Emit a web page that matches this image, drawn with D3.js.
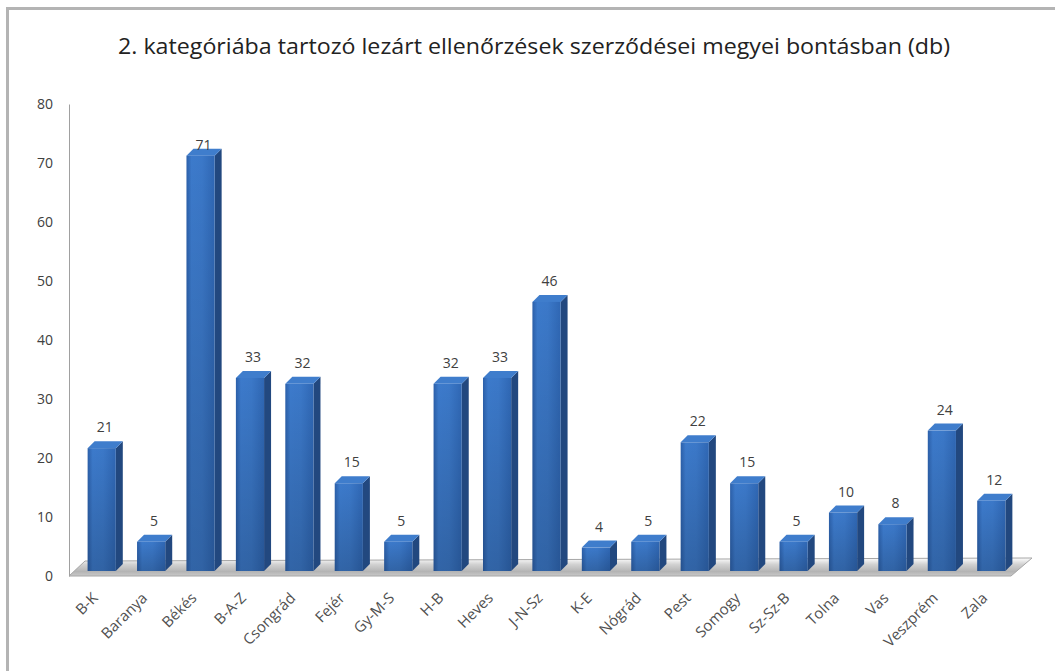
<!DOCTYPE html>
<html>
<head>
<meta charset="utf-8">
<script src="https://cdn.jsdelivr.net/npm/d3@7"></script>
<style>
  body { margin: 0; background: #fff; }
  text { font-family: "Open Sans", "Noto Sans", sans-serif; }
</style>
</head>
<body>
<script>
// chart data
var title = "2. kategóriába tartozó lezárt ellenőrzések szerződései megyei bontásban (db)";
var counties = ["B-K", "Baranya", "Békés", "B-A-Z", "Csongrád", "Fejér", "Gy-M-S", "H-B", "Heves",
    "J-N-Sz", "K-E", "Nógrád", "Pest", "Somogy", "Sz-Sz-B", "Tolna", "Vas", "Veszprém", "Zala"];
var counts = [21, 5, 71, 33, 32, 15, 5, 32, 33, 46, 4, 5, 22, 15, 5, 10, 8, 24, 12];
var yTicks = [0, 10, 20, 30, 40, 50, 60, 70, 80];

var width = 1055,
    height = 671;

// 3d depth of bars and floor
var barDepth = 7;
var floorDx = 16, floorDy = 15;

var svg = d3.select('body')
    .append('svg')
    .attr('width', width)
    .attr('height', height);

var defs = svg.append('defs');

// front face gradient, left to right
var front = defs.append('linearGradient').attr('id', 'front')
    .attr('x1', 0).attr('x2', 1).attr('y1', 0).attr('y2', 0);
front.append('stop').attr('offset', '0%').attr('stop-color', '#2c60aa');
front.append('stop').attr('offset', '18%').attr('stop-color', '#3c7acb');
front.append('stop').attr('offset', '55%').attr('stop-color', '#3b78c8');
front.append('stop').attr('offset', '100%').attr('stop-color', '#2f67b4');

// darken towards the bottom
var shade = defs.append('linearGradient').attr('id', 'shade')
    .attr('x1', 0).attr('x2', 0).attr('y1', 0).attr('y2', 1);
shade.append('stop').attr('offset', '0%').attr('stop-color', '#000').attr('stop-opacity', 0);
shade.append('stop').attr('offset', '100%').attr('stop-color', '#000').attr('stop-opacity', 0.18);

var floorGrad = defs.append('linearGradient').attr('id', 'floor')
    .attr('x1', 0).attr('x2', 0).attr('y1', 0).attr('y2', 1);
floorGrad.append('stop').attr('offset', '0%').attr('stop-color', '#ffffff');
floorGrad.append('stop').attr('offset', '35%').attr('stop-color', '#d2d2d2');
floorGrad.append('stop').attr('offset', '75%').attr('stop-color', '#b4b4b4');
floorGrad.append('stop').attr('offset', '100%').attr('stop-color', '#c8c8c8');

// outer frame (only top and left visible in the crop)
svg.append('path')
    .attr('d', 'M7.5,' + height + 'V8.5H' + width)
    .attr('fill', 'none')
    .attr('stroke', '#b4b4b4')
    .attr('stroke-width', 3);

svg.append('text')
    .attr('x', 534)
    .attr('y', 54)
    .attr('text-anchor', 'middle')
    .attr('font-size', 21)
    .attr('fill', '#222')
    .attr('textLength', 832)
    .attr('lengthAdjust', 'spacingAndGlyphs')
    .text(title);

// scales
var x = d3.scaleBand()
    .domain(counties)
    .range([77, 1016])
    .paddingInner(0.43)
    .paddingOuter(0.215);

var yAxisScale = d3.scaleLinear().domain([0, 80]).range([576, 104]);
var y = d3.scaleLinear().domain([0, 80]).range([571, 103]);

// floor
var fx0 = 69, fx1 = 1011, fy = yAxisScale(0);
svg.append('path')
    .attr('d', 'M' + fx0 + ',' + fy +
        'L' + fx1 + ',' + fy +
        'L' + (fx1 + floorDx + 5) + ',' + (fy - floorDy - 3) +
        'L' + (fx0 + floorDx) + ',' + (fy - floorDy) + 'Z')
    .attr('fill', 'url(#floor)')
    .attr('stroke', '#a6a6a6')
    .attr('stroke-width', 1);

// y axis
var yAxis = svg.append('g')
    .attr('transform', 'translate(69,0)')
    .call(d3.axisLeft(yAxisScale).tickValues(yTicks).tickSize(0).tickPadding(16));
yAxis.select('.domain').attr('stroke', '#a0a0a0');
yAxis.selectAll('text')
    .attr('font-size', 14)
    .attr('fill', '#404040')
    .style('font-family', '"Open Sans", sans-serif');

// bars
var bw = x.bandwidth();
var bars = svg.selectAll('.bar')
    .data(counts)
    .enter().append('g')
    .attr('class', 'bar');

// side face
bars.append('path')
    .attr('d', function(d, i) {
        var x0 = x(counties[i]) + bw, top = y(d), bot = y(0);
        return 'M' + x0 + ',' + top + 'L' + (x0 + barDepth) + ',' + (top - barDepth) +
            'L' + (x0 + barDepth) + ',' + (bot - barDepth) + 'L' + x0 + ',' + bot + 'Z';
    })
    .attr('fill', '#22487f');

// top face
bars.append('path')
    .attr('d', function(d, i) {
        var x0 = x(counties[i]), top = y(d);
        return 'M' + x0 + ',' + top + 'L' + (x0 + barDepth) + ',' + (top - barDepth) +
            'L' + (x0 + bw + barDepth) + ',' + (top - barDepth) + 'L' + (x0 + bw) + ',' + top + 'Z';
    })
    .attr('fill', '#3f7dcc');

// front face
bars.append('rect')
    .attr('x', function(d, i) { return x(counties[i]); })
    .attr('y', function(d) { return y(d); })
    .attr('width', bw)
    .attr('height', function(d) { return y(0) - y(d); })
    .attr('fill', 'url(#front)');
bars.append('rect')
    .attr('x', function(d, i) { return x(counties[i]); })
    .attr('y', function(d) { return y(d); })
    .attr('width', bw)
    .attr('height', function(d) { return y(0) - y(d); })
    .attr('fill', 'url(#shade)');

// value labels, kept inside the plot area
svg.selectAll('.val')
    .data(counts)
    .enter().append('text')
    .attr('class', 'val')
    .attr('x', function(d, i) { return x(counties[i]) + bw / 2 + 3; })
    .attr('y', function(d) { return Math.max(y(d) - 16, 150); })
    .attr('text-anchor', 'middle')
    .attr('font-size', 14)
    .attr('fill', '#404040')
    .text(function(d) { return d; });

// category labels
svg.selectAll('.cat')
    .data(counties)
    .enter().append('text')
    .attr('class', 'cat')
    .attr('transform', function(d) {
        return 'translate(' + (x(d) + bw / 2 - 3) + ',599) rotate(-45)';
    })
    .attr('text-anchor', 'end')
    .attr('font-size', 15)
    .attr('fill', '#505050')
    .text(function(d) { return d; });
</script>
</body>
</html>
